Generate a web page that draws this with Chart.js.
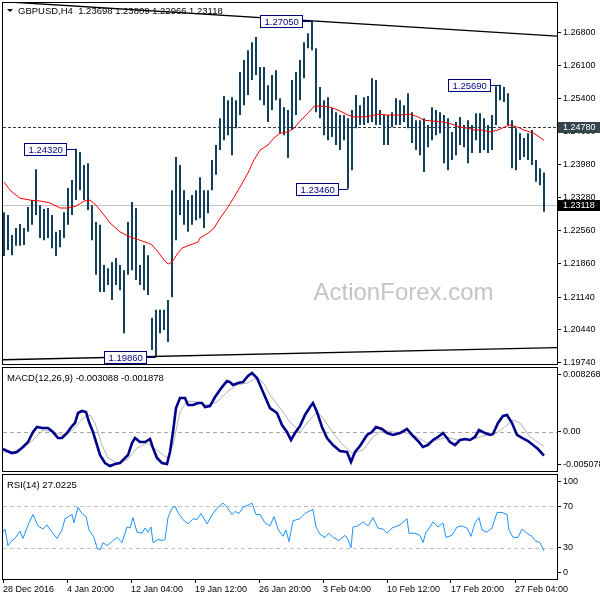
<!DOCTYPE html>
<html>
<head>
<meta charset="utf-8">
<script src="https://cdn.jsdelivr.net/npm/chart.js@4.4.0/dist/chart.umd.min.js"></script>
<style>
  html, body { margin: 0; padding: 0; background: #fff; }
  #wrap { position: relative; width: 600px; height: 600px; overflow: hidden; }
  canvas { position: absolute; left: 0; }
</style>
</head>
<body>
<div id="wrap">
  <canvas id="priceChart" width="600" height="372" style="top:0"></canvas>
  <canvas id="macdChart" width="600" height="120" style="top:360px"></canvas>
  <canvas id="rsiChart" width="600" height="133" style="top:467px"></canvas>
</div>
<script>
// ---- data (x positions are H4 bar numbers from the left edge) ----
const timeLabels = ["28 Dec 2016", "4 Jan 20:00", "12 Jan 04:00", "19 Jan 12:00", "26 Jan 20:00",
  "3 Feb 04:00", "10 Feb 12:00", "17 Feb 20:00", "27 Feb 04:00"];
const timePos = [-0.5, 31.5, 63.5, 95.5, 127.5, 159.5, 191.5, 223.5, 255.5];

const highs = [
  1.2296, 1.2290, 1.2247, 1.2262, 1.2271, 1.2262, 1.2307, 1.2322, 1.2388, 1.2311,
  1.2303, 1.2305, 1.2290, 1.2254, 1.2258, 1.2296, 1.2348, 1.2365, 1.2432, 1.2425,
  1.2397, 1.2401, 1.2311, 1.2275, 1.2269, 1.2183, 1.2176, 1.2189, 1.2198, 1.2183,
  1.2172, 1.2275, 1.2318, 1.2305, 1.2183, 1.2226, 1.2204, 1.2070, 1.2087, 1.2087,
  1.2087, 1.2108, 1.2343, 1.2414, 1.2397, 1.2343, 1.2322, 1.2333, 1.2343, 1.2371,
  1.2343, 1.2343, 1.2408, 1.2440, 1.2497, 1.2545, 1.2536, 1.2542, 1.2536, 1.2596,
  1.2622, 1.2643, 1.2660, 1.2671, 1.2607, 1.2607, 1.2568, 1.2590, 1.2600, 1.2540,
  1.2521, 1.2515, 1.2579, 1.2596, 1.2622, 1.2660, 1.2679, 1.2705, 1.2647, 1.2564,
  1.2536, 1.2542, 1.2519, 1.2510, 1.2504, 1.2504, 1.2497, 1.2515, 1.2547, 1.2525,
  1.2542, 1.2545, 1.2583, 1.2579, 1.2515, 1.2504, 1.2504, 1.2510, 1.2540, 1.2536,
  1.2525, 1.2551, 1.2510, 1.2493, 1.2493, 1.2497, 1.2483, 1.2521, 1.2515, 1.2510,
  1.2504, 1.2497, 1.2468, 1.2489, 1.2500, 1.2483, 1.2493, 1.2483, 1.2508, 1.2508,
  1.2497, 1.2483, 1.2504, 1.2566, 1.2569, 1.2564, 1.2551, 1.2493, 1.2476, 1.2465,
  1.2455, 1.2465, 1.2472, 1.2408, 1.2390, 1.2381
];
const lows = [
  1.2202, 1.2215, 1.2204, 1.2224, 1.2224, 1.2226, 1.2254, 1.2269, 1.2290, 1.2241,
  1.2236, 1.2241, 1.2219, 1.2202, 1.2221, 1.2241, 1.2269, 1.2290, 1.2322, 1.2343,
  1.2322, 1.2301, 1.2236, 1.2162, 1.2125, 1.2125, 1.2140, 1.2108, 1.2140, 1.2129,
  1.2037, 1.2162, 1.2172, 1.2151, 1.2140, 1.2129, 1.2119, 1.2001, 1.1986, 1.2037,
  1.2044, 1.2018, 1.2114, 1.2236, 1.2290, 1.2269, 1.2254, 1.2269, 1.2279, 1.2283,
  1.2262, 1.2294, 1.2343, 1.2376, 1.2429, 1.2450, 1.2461, 1.2418, 1.2476, 1.2504,
  1.2525, 1.2547, 1.2579, 1.2590, 1.2536, 1.2525, 1.2489, 1.2515, 1.2536, 1.2465,
  1.2461, 1.2412, 1.2472, 1.2504, 1.2536, 1.2583, 1.2647, 1.2643, 1.2510, 1.2497,
  1.2461, 1.2450, 1.2457, 1.2440, 1.2429, 1.2450, 1.2346, 1.2386, 1.2476, 1.2483,
  1.2483, 1.2487, 1.2489, 1.2483, 1.2483, 1.2440, 1.2440, 1.2478, 1.2483, 1.2483,
  1.2489, 1.2476, 1.2444, 1.2429, 1.2418, 1.2382, 1.2435, 1.2450, 1.2461, 1.2465,
  1.2401, 1.2386, 1.2408, 1.2418, 1.2440, 1.2435, 1.2401, 1.2423, 1.2450, 1.2423,
  1.2429, 1.2423, 1.2429, 1.2483, 1.2536, 1.2532, 1.2483, 1.2390, 1.2386, 1.2408,
  1.2414, 1.2408, 1.2397, 1.2361, 1.2354, 1.2297
];
const barPos = highs.map((h, i) => i * 2);

const maPos = [0, 3, 8, 13, 18, 23, 28, 32, 36, 40, 43, 46, 50, 53, 58, 63, 68, 72, 74, 77,
  80, 82, 84, 87, 89, 93, 97, 98, 102, 105, 108, 112, 115, 118, 122, 125, 128, 132, 135, 138,
  142, 145, 148, 152, 155, 160, 163, 167, 172, 175, 180, 183, 187, 192, 198, 203, 207, 210, 215, 220,
  225, 228, 232, 235, 239, 243, 247, 250, 253, 257, 260, 265, 270];
const maVals = [1.2361, 1.2343, 1.2326, 1.2322, 1.2320, 1.2316, 1.2305, 1.2305, 1.2309, 1.2320,
  1.2322, 1.2311, 1.2290, 1.2273, 1.2254, 1.2243, 1.2236, 1.2230, 1.2226, 1.2211,
  1.2194, 1.2185, 1.2189, 1.2209, 1.2219, 1.2226, 1.2232, 1.2241, 1.2251, 1.2262,
  1.2283, 1.2307, 1.2328, 1.2350, 1.2380, 1.2408, 1.2429, 1.2440, 1.2455, 1.2465,
  1.2468, 1.2476, 1.2491, 1.2508, 1.2523, 1.2523, 1.2521, 1.2515, 1.2504, 1.2500,
  1.2500, 1.2502, 1.2506, 1.2504, 1.2504, 1.2506, 1.2500, 1.2493, 1.2491, 1.2489,
  1.2483, 1.2478, 1.2476, 1.2472, 1.2472, 1.2468, 1.2472, 1.2478, 1.2483, 1.2478,
  1.2472, 1.2465, 1.2450];

const trendPos = [-0.5, 276.5];
const trendTop = [1.2747, 1.2673];
const trendBottom = [1.1980, 1.2006];

const priceTicks = [1.2680, 1.2610, 1.2540, 1.2468, 1.2398, 1.2328, 1.2256, 1.2186, 1.2114, 1.2044, 1.1974];
const priceMin = 1.1971;
const priceMax = 1.2744;

const calloutPos = [154, 248, 36, 172, 76];
const calloutVals = [1.2705, 1.2569, 1.2432, 1.2346, 1.1986];

const lastBar = [1.23698, 1.23809, 1.22966, 1.23118]; // open high low close
const levelPrice = 1.2478;

const macdPos = [-0.5, 1.5, 4, 6.5, 9.5, 12, 14.5, 16.5, 19, 22, 24.5, 27, 29, 31.5, 34, 35.5, 37, 39, 41, 42.5,
  44.5, 46.5, 48, 50.5, 53, 55.5, 58, 60.5, 62, 64, 65.5, 68, 70.5, 73, 74.5, 76.5, 79, 81.5, 83, 84.5,
  86, 88, 90.5, 92, 94.5, 97, 99, 100.5, 103, 105.5, 109, 111.5, 113, 114.5, 117, 119.5, 122, 124, 126.5, 129.5,
  133, 136.5, 139, 141.5, 143.5, 145.5, 148, 150.5, 153, 154.5, 156.5, 159, 161.5, 164.5, 168, 171.5, 173.5, 175.5, 178, 181.5,
  184, 186, 189, 191.5, 194.5, 198, 201.5, 204, 207, 209.5, 212, 214.5, 217, 219.5, 221.5, 223, 225.5, 228, 230.5, 233,
  235.5, 237.5, 240.5, 243, 244.5, 247, 249.5, 251.5, 254, 256.5, 259, 262, 264.5, 267, 270];
const macdVals = [-0.00223, -0.00249, -0.00275, -0.00262, -0.00197, -0.00132, -0.00003, 0.00062, 0.00049, 0.00049,
  -0.00003, -0.00080, -0.00080, -0.00016, 0.00075, 0.00114, 0.00244, 0.00270, 0.00257, 0.00127,
  -0.00003, -0.00171, -0.00301, -0.00404, -0.00443, -0.00417, -0.00404, -0.00339, -0.00301, -0.00145,
  -0.00080, -0.00132, -0.00132, -0.00093, -0.00210, -0.00339, -0.00404, -0.00417, -0.00262, -0.00003,
  0.00308, 0.00438, 0.00438, 0.00347, 0.00347, 0.00373, 0.00373, 0.00321, 0.00334, 0.00451,
  0.00580, 0.00658, 0.00645, 0.00606, 0.00632, 0.00645, 0.00723, 0.00762, 0.00697, 0.00516,
  0.00308, 0.00244, 0.00088, -0.00003, -0.00106, -0.00016, 0.00075, 0.00218, 0.00321, 0.00373,
  0.00257, 0.00062, -0.00080, -0.00171, -0.00249, -0.00262, -0.00391, -0.00262, -0.00184, -0.00041,
  -0.00003, 0.00062, 0.00036, -0.00016, -0.00041, -0.00016, 0.00036, -0.00041, -0.00119, -0.00197,
  -0.00171, -0.00106, -0.00067, -0.00016, -0.00080, -0.00132, -0.00171, -0.00106, -0.00093, -0.00106,
  -0.00067, 0.00023, -0.00016, -0.00041, -0.00029, 0.00114, 0.00205, 0.00218, 0.00114, -0.00041,
  -0.00080, -0.00119, -0.00171, -0.00223, -0.003088];

const signalPos = [-0.5, 4.5, 9.5, 14.5, 19.5, 24.5, 29.5, 34.5, 39.5, 43, 45.5, 49, 52, 56.5, 61.5, 66.5, 71.5, 76.5,
  81.5, 84.5, 88, 91.5, 96.5, 101.5, 106.5, 111.5, 116.5, 121.5, 126.5, 129.5, 133, 138, 143, 148, 152, 156.5,
  159.5, 164.5, 169.5, 174.5, 179.5, 184.5, 189.5, 194.5, 201.5, 206.5, 211.5, 216.5, 221.5, 226.5, 231.5,
  236.5, 241.5, 246.5, 251.5, 254.5, 258, 263, 270];
const signalVals = [-0.00262, -0.00262, -0.00210, -0.00106, 0.00023, -0.00003, -0.00041, 0.00023, 0.00179, 0.00218,
  0.00114, -0.00171, -0.00339, -0.00404, -0.00365, -0.00210, -0.00145, -0.00236, -0.00339, -0.00171,
  0.00257, 0.00399, 0.00386, 0.00347, 0.00386, 0.00516, 0.00606, 0.00632, 0.00697, 0.00645,
  0.00477, 0.00308, 0.00127, -0.00003, 0.00127, 0.00257, 0.00179, -0.00016, -0.00171, -0.00288,
  -0.00236, -0.00067, 0.00023, -0.00003, -0.00016, -0.00067, -0.00145, -0.00106, -0.00067, -0.00106,
  -0.00106, -0.00080, -0.00041, -0.00016, 0.00088, 0.00153, 0.00114, -0.00067, -0.001878];

const macdMin = -0.005078;
const macdMax = 0.008268;
const macdTicks = [0.008268, 0, -0.005078];
const macdTickLabels = ["0.008268", "0.00", "-0.005078"];

const rsiPos = [-0.5, 0.5, 2, 4, 5.5, 8, 9.5, 12, 14.5, 17, 19.5, 21.5, 24, 26.5, 29, 30.5, 34, 35, 37, 39,
  41, 42.5, 45, 46.5, 48, 49.5, 51.5, 54, 56.5, 59, 61.5, 63, 64.5, 66.5, 69, 70.5, 72, 73.5, 74.5, 77,
  79, 80.5, 82, 84, 85.5, 87, 89.5, 92, 94.5, 96.5, 98.5, 101.5, 104.5, 107, 109.5, 111.5, 114, 115.5, 117.5, 119.5,
  122, 124, 126, 128, 130.5, 133, 135, 137, 139.5, 141, 142.5, 144.5, 148, 150.5, 154.5, 156, 158, 160.5, 162.5, 164.5,
  167.5, 170.5, 172, 173.5, 174.5, 177, 179.5, 182, 184.5, 187, 189.5, 191.5, 194, 198, 201.5, 202.5, 205.5, 208, 209.5, 211,
  213, 214.5, 217, 219.5, 221, 224, 226.5, 229, 231.5, 233.5, 235.5, 237.5, 239, 241.5, 244, 246.5, 249, 251.5,
  252.5, 254.5, 257, 259, 261.5, 264, 265.5, 268, 270];
const rsiVals = [45, 48, 32, 37, 39, 46, 39, 52, 62, 51, 48, 52, 45, 39, 47, 58, 62, 54, 69, 63,
  60, 47, 40, 30, 28, 35, 32, 36, 40, 35, 50, 49, 59, 45, 44, 49, 45, 50, 35, 38,
  37, 38, 59, 68, 70, 64, 57, 53, 58, 57, 63, 53, 63, 69, 73, 69, 62, 65, 63, 69,
  71, 73, 62, 62, 54, 51, 60, 48, 41, 47, 36, 56, 58, 63, 67, 50, 43, 40, 44, 40,
  37, 42, 38, 30, 50, 51, 55, 51, 59, 49, 48, 44, 49, 52, 58, 44, 44, 42, 35, 45,
  50, 55, 50, 54, 40, 42, 50, 51, 49, 41, 54, 59, 47, 45, 49, 64, 64, 62,
  47, 40, 40, 48, 44, 41, 37, 35, 27.0225];
const rsiTicks = [100, 70, 30, 0];
const rsiLevels = [70, 30];

// ---- shared setup ----
const FONT = "'Liberation Sans', Arial, sans-serif";
const X_MIN = -0.5;
const X_MAX = 276.5;
const AXIS_W = 43;

Chart.defaults.font.family = FONT;
Chart.defaults.font.size = 9;
Chart.defaults.color = "#000";

const toXY = (xs, ys) => xs.map((x, i) => ({ x: x, y: ys[i] }));

const xAxis = (show) => {
  const axis = {
    type: "linear",
    min: X_MIN,
    max: X_MAX,
    offset: false,
    display: show,
    grid: { offset: false, drawOnChartArea: false, tickLength: 4, tickColor: "#000" },
    border: { display: false },
  };
  if (show) {
    axis.afterBuildTicks = (s) => { s.ticks = timePos.map((v) => ({ value: v })); };
    axis.afterFit = (s) => { s.height = 21; s.paddingLeft = 0; s.paddingRight = 0; };
    axis.ticks = {
      autoSkip: false, maxRotation: 0, minRotation: 0, align: "start", padding: 1,
      font: { size: 9 }, color: "#000",
      callback: (v, i) => timeLabels[i],
    };
  }
  return axis;
};

// MT4 pulls the labels of the window's extremes a little inside the frame
const insetTicks = (vals, min, max) => {
  const pad = (max - min) * 0.06;
  return vals.map((v) => ({ value: Math.min(max - pad, Math.max(min + pad, v)) }));
};

const rightAxis = (min, max, tickObjs, labelFn) => ({
  position: "right",
  min: min,
  max: max,
  afterBuildTicks: (s) => { s.ticks = tickObjs; },
  afterFit: (s) => { s.width = AXIS_W; s.paddingTop = 0; s.paddingBottom = 0; },
  ticks: { autoSkip: false, padding: 2, font: { size: 9 }, color: "#000", callback: labelFn },
  grid: { drawOnChartArea: false, drawTicks: true, tickLength: 4, tickColor: "#000" },
  border: { display: false },
});

const panelPlugin = {
  id: "panel",
  beforeDatasetsDraw(chart, args, opts) {
    const { ctx, chartArea: a, scales: { y } } = chart;
    ctx.save();
    (opts.levels || []).forEach((l) => {
      const py = Math.round(y.getPixelForValue(l.value)) + 0.5;
      ctx.strokeStyle = l.color;
      ctx.lineWidth = 1;
      ctx.setLineDash(l.dash || []);
      ctx.beginPath();
      ctx.moveTo(a.left, py);
      ctx.lineTo(a.right, py);
      ctx.stroke();
    });
    ctx.restore();
  },
  afterDraw(chart, args, opts) {
    const { ctx, chartArea: a } = chart;
    ctx.save();
    ctx.strokeStyle = "#000";
    ctx.lineWidth = 1;
    ctx.setLineDash([]);
    ctx.strokeRect(a.left - 0.5, a.top - 0.5, a.right - a.left + 1, a.bottom - a.top + 1);
    if (opts.label) {
      ctx.fillStyle = "#000";
      ctx.font = `9.5px ${FONT}`;
      ctx.textAlign = "left";
      ctx.textBaseline = "alphabetic";
      ctx.fillText(opts.label, a.left + 4, a.top + 12.5);
    }
    ctx.restore();
  },
};

const baseOptions = (padding) => ({
  responsive: false,
  maintainAspectRatio: false,
  animation: false,
  devicePixelRatio: 1,
  events: [],
  layout: { padding: padding },
});

// ---- price window ----
const pricePlugin = {
  id: "priceExtras",
  beforeDatasetsDraw(chart) {
    const { ctx, chartArea: a, scales: { y } } = chart;
    ctx.save();
    ctx.fillStyle = "#c4c4c4";
    ctx.font = `24px ${FONT}`;
    ctx.textAlign = "center";
    ctx.textBaseline = "alphabetic";
    ctx.fillText("ActionForex.com", a.left + (a.right - a.left) * 0.723, a.top + (a.bottom - a.top) * 0.823);

    const cy = Math.round(y.getPixelForValue(lastBar[3])) + 0.5;
    ctx.strokeStyle = "#c0c0c0";
    ctx.lineWidth = 1;
    ctx.beginPath();
    ctx.moveTo(a.left, cy);
    ctx.lineTo(a.right, cy);
    ctx.stroke();

    const ly = Math.round(y.getPixelForValue(levelPrice)) + 0.5;
    ctx.strokeStyle = "#2e3b42";
    ctx.setLineDash([3, 2]);
    ctx.beginPath();
    ctx.moveTo(a.left, ly);
    ctx.lineTo(a.right, ly);
    ctx.stroke();
    ctx.restore();
  },
  afterDraw(chart) {
    const { ctx, chartArea: a, scales: { x, y } } = chart;
    ctx.save();
    ctx.font = `9.5px ${FONT}`;
    ctx.lineWidth = 1;

    // high / low callouts
    calloutPos.forEach((p, i) => {
      const txt = calloutVals[i].toFixed(5);
      const px = Math.round(x.getPixelForValue(p));
      const py = Math.round(y.getPixelForValue(calloutVals[i])) + 0.5;
      const w = Math.round(ctx.measureText(txt).width) + 8;
      const right = px - 10 + 0.5;
      const left = right - w;
      ctx.fillStyle = "#fff";
      ctx.fillRect(left, py - 6, w, 12);
      ctx.strokeStyle = "#000080";
      ctx.strokeRect(left, py - 6, w, 12);
      ctx.beginPath();
      ctx.moveTo(right, py);
      ctx.lineTo(px, py);
      ctx.stroke();
      ctx.fillStyle = "#000080";
      ctx.textAlign = "left";
      ctx.textBaseline = "middle";
      ctx.fillText(txt, left + 4, py + 0.5);
    });

    // price tags on the axis
    const tag = (val, bg) => {
      const py = Math.round(y.getPixelForValue(val));
      ctx.fillStyle = bg;
      ctx.fillRect(a.right + 1, py - 5, chart.width - a.right - 1, 11);
      ctx.fillStyle = "#fff";
      ctx.font = `9px ${FONT}`;
      ctx.textAlign = "left";
      ctx.textBaseline = "middle";
      ctx.fillText(val.toFixed(5), a.right + 6, py + 0.5);
    };
    tag(levelPrice, "#34444c");
    tag(lastBar[3], "#000");

    // title
    ctx.fillStyle = "#000";
    ctx.beginPath();
    ctx.moveTo(a.left + 4, a.top + 6);
    ctx.lineTo(a.left + 10, a.top + 6);
    ctx.lineTo(a.left + 7, a.top + 9);
    ctx.closePath();
    ctx.fill();
    ctx.font = `9.5px ${FONT}`;
    ctx.textAlign = "left";
    ctx.textBaseline = "alphabetic";
    ctx.fillText("GBPUSD,H4  " + lastBar.map((v) => v.toFixed(5)).join(" "), a.left + 15, a.top + 11);
    ctx.restore();
  },
};

new Chart(document.getElementById("priceChart"), {
  type: "line",
  data: {
    datasets: [
      { data: toXY(trendPos, trendTop), borderColor: "#000", borderWidth: 1.4, pointRadius: 0, clip: 0 },
      { data: toXY(trendPos, trendBottom), borderColor: "#000", borderWidth: 1.4, pointRadius: 0, clip: 0 },
      { data: toXY(maPos, maVals), borderColor: "#ff0000", borderWidth: 1, pointRadius: 0, tension: 0 },
      {
        type: "bar",
        data: barPos.map((b, i) => ({ x: b, y: [lows[i], highs[i]] })),
        backgroundColor: "#123f5a",
        borderWidth: 0,
        barThickness: 2,
        inflateAmount: 0,
        grouped: false,
      },
    ],
  },
  options: Object.assign(baseOptions({ left: 3, top: 3, right: 0, bottom: 8 }), {
    scales: {
      x: xAxis(false),
      y: rightAxis(priceMin, priceMax, priceTicks.map((v) => ({ value: v })), (v) => v.toFixed(5)),
    },
    plugins: { legend: { display: false }, tooltip: { enabled: false }, panel: {} },
  }),
  plugins: [panelPlugin, pricePlugin],
});

// ---- MACD window ----
new Chart(document.getElementById("macdChart"), {
  type: "line",
  data: {
    datasets: [
      { data: toXY(macdPos, macdVals), borderColor: "#00008b", borderWidth: 2.6, pointRadius: 0, tension: 0 },
      { data: toXY(signalPos, signalVals), borderColor: "#b4b4b4", borderWidth: 1, pointRadius: 0, tension: 0 },
    ],
  },
  options: Object.assign(baseOptions({ left: 3, top: 8, right: 0, bottom: 9 }), {
    scales: {
      x: xAxis(false),
      y: rightAxis(macdMin, macdMax, insetTicks(macdTicks, macdMin, macdMax), (v, i) => macdTickLabels[i]),
    },
    plugins: {
      legend: { display: false },
      tooltip: { enabled: false },
      panel: {
        label: `MACD(12,26,9) ${macdVals[macdVals.length - 1].toFixed(6)} ${signalVals[signalVals.length - 1].toFixed(6)}`,
        levels: [{ value: 0, color: "#a8a8a8", dash: [4, 3] }],
      },
    },
  }),
  plugins: [panelPlugin],
});

// ---- RSI window ----
new Chart(document.getElementById("rsiChart"), {
  type: "line",
  data: {
    datasets: [
      { data: toXY(rsiPos, rsiVals), borderColor: "#1e90ff", borderWidth: 1, pointRadius: 0, tension: 0 },
    ],
  },
  options: Object.assign(baseOptions({ left: 3, top: 8, right: 0, bottom: 0 }), {
    scales: {
      x: xAxis(true),
      y: rightAxis(0, 100, insetTicks(rsiTicks, 0, 100), (v, i) => String(rsiTicks[i])),
    },
    plugins: {
      legend: { display: false },
      tooltip: { enabled: false },
      panel: {
        label: `RSI(14) ${rsiVals[rsiVals.length - 1]}`,
        levels: rsiLevels.map((v) => ({ value: v, color: "#c0c0c0", dash: [4, 3] })),
      },
    },
  }),
  plugins: [panelPlugin],
});
</script>
</body>
</html>
